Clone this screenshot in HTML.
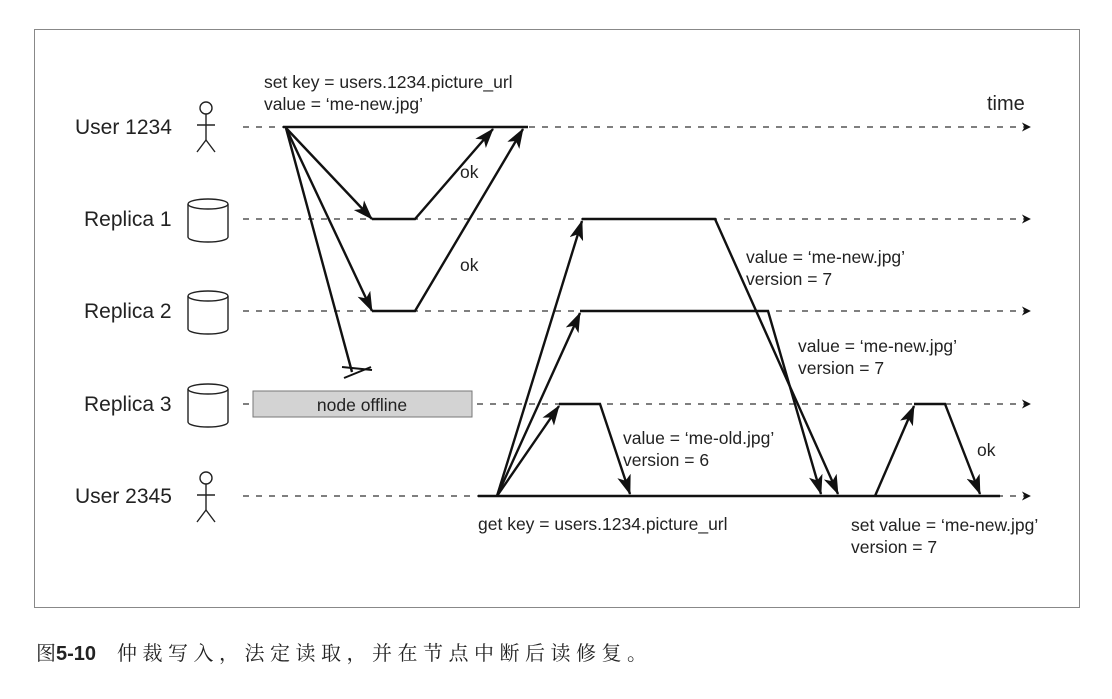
<!DOCTYPE html>
<html><head><meta charset="utf-8"><style>
body{margin:0;background:#fff;width:1112px;height:694px;overflow:hidden}
svg text{font-family:"Liberation Sans",sans-serif;fill:#222}
</style></head><body>
<svg width="1112" height="694" viewBox="0 0 1112 694" xmlns="http://www.w3.org/2000/svg">
<defs>
<marker id="a" viewBox="0 0 10 10" refX="9" refY="5" markerWidth="9" markerHeight="9" orient="auto" markerUnits="userSpaceOnUse"><path d="M0,0 L10,5 L0,10 L3,5 Z" fill="#111"/></marker>
<marker id="b" viewBox="0 0 20 14" refX="19" refY="7" markerWidth="20" markerHeight="14" orient="auto" markerUnits="userSpaceOnUse"><path d="M0,0 L20,7 L0,14 L5,7 Z" fill="#111"/></marker>
</defs>
<rect x="34.5" y="29.5" width="1045" height="578" fill="none" stroke="#888" stroke-width="1"/>
<g stroke="#333" stroke-width="1.3" stroke-dasharray="6,7" fill="none">
<line x1="243" y1="127" x2="1030" y2="127" marker-end="url(#a)"/>
<line x1="243" y1="219" x2="1030" y2="219" marker-end="url(#a)"/>
<line x1="243" y1="311" x2="1030" y2="311" marker-end="url(#a)"/>
<line x1="243" y1="404" x2="1030" y2="404" marker-end="url(#a)"/>
<line x1="243" y1="496" x2="1030" y2="496" marker-end="url(#a)"/>
</g>
<g font-size="21">
<text x="75" y="134">User 1234</text>
<text x="84" y="226">Replica 1</text>
<text x="84" y="318">Replica 2</text>
<text x="84" y="411">Replica 3</text>
<text x="75" y="503">User 2345</text>
</g>
<text x="987" y="110" font-size="20">time</text>
<g stroke="#222" stroke-width="1.4" fill="#fff">
<circle cx="206" cy="108" r="6"/>
<line x1="206" y1="114" x2="206" y2="140"/><line x1="197" y1="125" x2="215" y2="125"/>
<path d="M197,152 L206,140 L215,152" fill="none"/>
<circle cx="206" cy="478" r="6"/>
<line x1="206" y1="484" x2="206" y2="510"/><line x1="197" y1="495" x2="215" y2="495"/>
<path d="M197,522 L206,510 L215,522" fill="none"/>
<g>
<path d="M188,204 v33 a20,5 0 0 0 40,0 v-33"/><ellipse cx="208" cy="204" rx="20" ry="5"/>
<path d="M188,296 v33 a20,5 0 0 0 40,0 v-33"/><ellipse cx="208" cy="296" rx="20" ry="5"/>
<path d="M188,389 v33 a20,5 0 0 0 40,0 v-33"/><ellipse cx="208" cy="389" rx="20" ry="5"/>
</g>
</g>
<rect x="253" y="391" width="219" height="26" fill="#d3d3d3" stroke="#777"/>
<text x="362" y="411" font-size="17.5" text-anchor="middle">node offline</text>
<g font-size="17.5">
<text x="264" y="88">set key = users.1234.picture_url</text>
<text x="264" y="110">value = ‘me-new.jpg’</text>
<text x="460" y="178">ok</text>
<text x="460" y="271">ok</text>
<text x="746" y="263">value = ‘me-new.jpg’</text>
<text x="746" y="285">version = 7</text>
<text x="798" y="352">value = ‘me-new.jpg’</text>
<text x="798" y="374">version = 7</text>
<text x="623" y="444">value = ‘me-old.jpg’</text>
<text x="623" y="466">version = 6</text>
<text x="977" y="456">ok</text>
<text x="478" y="530">get key = users.1234.picture_url</text>
<text x="851" y="531">set value = ‘me-new.jpg’</text>
<text x="851" y="553">version = 7</text>
</g>
<g stroke="#111" stroke-width="2.4" fill="none">
<line x1="283" y1="127" x2="528" y2="127"/>
<line x1="478" y1="496" x2="1000" y2="496"/>
<line x1="286" y1="128" x2="372" y2="219" marker-end="url(#b)"/>
<line x1="286" y1="128" x2="372" y2="311" marker-end="url(#b)"/>
<line x1="286" y1="128" x2="352" y2="372"/>
<polyline points="372,219 415,219 493,129" marker-end="url(#b)"/>
<polyline points="372,311 415,311 523,129" marker-end="url(#b)"/>
<line x1="497" y1="496" x2="582" y2="221" marker-end="url(#b)"/>
<line x1="497" y1="496" x2="580" y2="313" marker-end="url(#b)"/>
<line x1="497" y1="496" x2="559" y2="406" marker-end="url(#b)"/>
<polyline points="582,219 715,219 838,494" marker-end="url(#b)"/>
<polyline points="580,311 768,311 821,494" marker-end="url(#b)"/>
<polyline points="559,404 600,404 630,494" marker-end="url(#b)"/>
<polyline points="875,496 914,406" marker-end="url(#b)"/>
<polyline points="914,404 945,404 980,494" marker-end="url(#b)"/>
</g>
<line x1="344" y1="378" x2="371" y2="367" stroke="#111" stroke-width="2"/>
<line x1="342" y1="367" x2="372" y2="370" stroke="#111" stroke-width="2"/>
<text x="36" y="660" font-size="20" style="font-family:'Liberation Sans','Noto Serif CJK SC',serif">图<tspan font-weight="bold" style="font-family:'Liberation Sans',sans-serif">5-10</tspan><tspan x="117" letter-spacing="5.5">仲裁写入，法定读取，并在节点中断后读修复。</tspan></text>
</svg>
</body></html>
